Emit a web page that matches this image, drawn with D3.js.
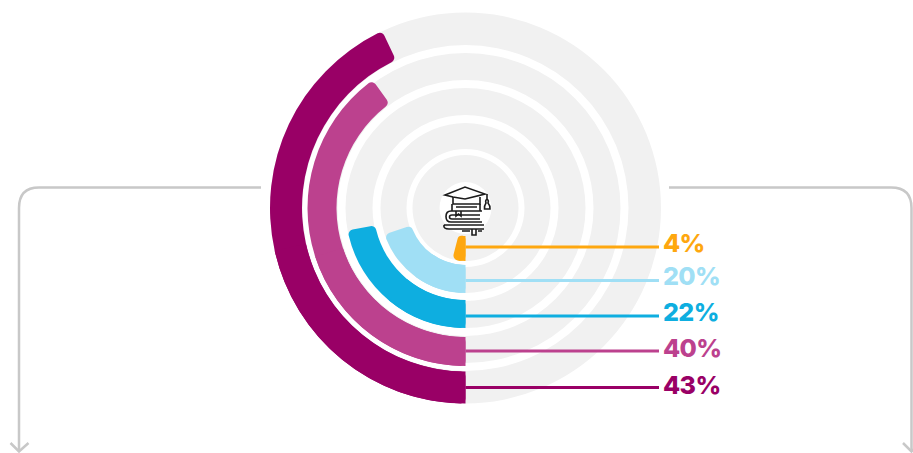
<!DOCTYPE html>
<html>
<head>
<meta charset="utf-8">
<script src="https://d3js.org/d3.v7.min.js"></script>
<style>
    html, body { margin: 0; padding: 0; background: #fff; overflow: hidden; }
    svg { display: block; }
</style>
</head>
<body>
<svg></svg>
<script>
// chart values, inner ring first
const labels = ['4%', '20%', '22%', '40%', '43%'];
const values = [4, 20, 22, 40, 43];
const colors = ['#fea70f', '#a0dff5', '#0eaee0', '#bc418e', '#990066'];

function drawRadial() {
    const width = 913;
    const height = 453;
    const cx = 465.5;
    const cy = 208;

    // inner / outer edges of each track
    const inner = [26, 59, 93, 128, 163];
    const outer = [53, 85, 120, 155, 195.5];
    // bars sit a little inside the tracks on some rings
    const barInner = [28, 57, 92, 129, 163.5];
    const barOuter = [53, 85, 120, 158, 195.5];
    const leaderY = [247, 280.5, 316, 351, 387.5];
    const labelY = [251.5, 284.5, 320.5, 356.5, 393.5];

    const svg = d3.select('svg')
        .attr('width', width)
        .attr('height', height);

    // share goes clockwise starting at the bottom of the circle
    const angle = d3.scaleLinear().domain([0, 100]).range([Math.PI, 3 * Math.PI]);
    const arc = d3.arc();

    const g = svg.append('g').attr('transform', `translate(${cx},${cy})`);

    // grey tracks
    g.selectAll('.track')
        .data(values)
        .enter().append('path')
        .attr('class', 'track')
        .attr('fill', '#f1f1f1')
        .attr('d', (d, i) => arc({
            innerRadius: inner[i],
            outerRadius: outer[i],
            startAngle: 0,
            endAngle: 2 * Math.PI
        }));

    // rounded bar, only the far end should look round
    g.selectAll('.bar')
        .data(values)
        .enter().append('path')
        .attr('class', 'bar')
        .attr('fill', (d, i) => colors[i])
        .attr('d', (d, i) => arc.cornerRadius(5)({
            innerRadius: barInner[i],
            outerRadius: barOuter[i],
            startAngle: angle(0),
            endAngle: angle(d)
        }));

    // square off the start at the bottom
    arc.cornerRadius(0);
    g.selectAll('.barStart')
        .data(values)
        .enter().append('path')
        .attr('class', 'barStart')
        .attr('fill', (d, i) => colors[i])
        .attr('d', (d, i) => arc({
            innerRadius: barInner[i],
            outerRadius: barOuter[i],
            startAngle: angle(0),
            endAngle: angle(d / 2)
        }));

    // leader lines
    svg.selectAll('.leader')
        .data(values)
        .enter().append('line')
        .attr('class', 'leader')
        .attr('x1', cx)
        .attr('x2', 659)
        .attr('y1', (d, i) => leaderY[i])
        .attr('y2', (d, i) => leaderY[i])
        .attr('stroke', (d, i) => colors[i])
        .attr('stroke-width', 3);

    // labels
    svg.selectAll('.label')
        .data(labels)
        .enter().append('text')
        .attr('class', 'label')
        .attr('x', 663)
        .attr('y', (d, i) => labelY[i])
        .attr('fill', (d, i) => colors[i])
        .style('font-family', 'Inter, sans-serif')
        .style('font-weight', 800)
        .style('font-size', '25px')
        .style('letter-spacing', '-0.6px')
        .text(d => d);

    // grey arrows on both sides
    const arrows = svg.append('g')
        .attr('fill', 'none')
        .attr('stroke', '#c8c8c8')
        .attr('stroke-width', 2.5);
    arrows.append('path').attr('d', 'M261,187.5H39Q19,187.5 19,208V451');
    arrows.append('path').attr('d', 'M10.5,443L19,451.5L28.5,443');
    arrows.append('path').attr('d', 'M669,187.5H891Q911.5,187.5 911.5,208V451');
    arrows.append('path').attr('d', 'M903,443L911.5,451.5L920,443');

    // centre icon, books and a graduation cap
    const icon = svg.append('g')
        .attr('fill', 'none')
        .attr('stroke', '#1c1c1c')
        .attr('stroke-width', 1.6);
    icon.append('path').attr('d', 'M445,195L465,187L485,194L465,199L453,197Z');
    icon.append('path').attr('d', 'M453,197V204H480V197');
    icon.append('path').attr('d', 'M487,194V200');
    icon.append('path').attr('d', 'M484.5,209Q484,206 486,203Q485,200 487,199.5Q489,200 488,203Q490.5,206 490,209Z');
    icon.append('path').attr('d', 'M452,204V211M456,207H477M480,204V211');
    icon.append('path').attr('d', 'M482,211H451Q446,211 446,216.5Q446,222 451,222H482');
    icon.append('path').attr('d', 'M480,215H452Q449.5,215 449.5,217Q449.5,219 452,219H480');
    icon.append('path').attr('d', 'M456,211V216L458.5,214L461,216V211');
    icon.append('path').attr('d', 'M444,225H484M444,225Q443,229 449,229H484');
    icon.append('path').attr('d', 'M472,229V235H476V229');
    icon.append('path').attr('d', 'M462,231H470M478,231H482');
}

window.addEventListener('load', drawRadial);
</script>
</body>
</html>
